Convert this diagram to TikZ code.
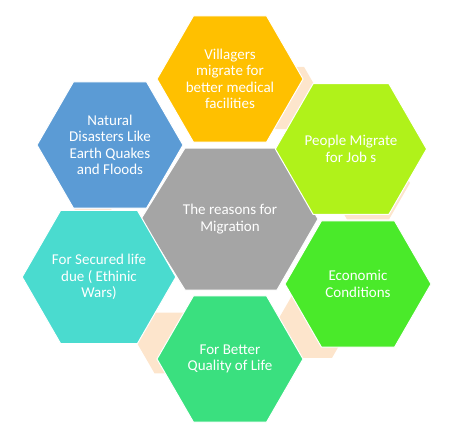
\documentclass[tikz,border=0pt]{standalone}
\usepackage{fontspec}
\setmainfont{Carlito}
\usepackage{xcolor}
\definecolor{HexGold}{HTML}{FFC000}
\definecolor{HexBlue}{HTML}{5B9BD5}
\definecolor{HexLime}{HTML}{B0F21A}
\definecolor{HexGreen}{HTML}{4AEA2A}
\definecolor{HexMint}{HTML}{3AE07F}
\definecolor{HexCyan}{HTML}{4ADBCF}
\definecolor{HexGray}{HTML}{A5A5A5}
\definecolor{LinkPeach}{HTML}{FDE5CC}
\usepackage{tikz}
\usetikzlibrary{shapes.geometric,positioning}

\begin{document}
\begin{tikzpicture}[
  x=1pt, y=-1pt,
  hexbox/.style={regular polygon, regular polygon sides=6, minimum size=146pt,
                 inner sep=0pt, draw=white, line width=1pt, text=white, align=center,
                 font=\fontsize{15}{16.5}\selectfont},
  linkhex/.style={regular polygon, regular polygon sides=6, inner sep=0pt,
                  fill=LinkPeach},
  lbl/.style={text=white, align=center, font=\fontsize{15}{16.5}\selectfont},
]
  \useasboundingbox (0,0) rectangle (460,440);

  % Links
  \node[linkhex, minimum size=72pt] (link1) at (286,98) {};
  \node[linkhex, minimum size=84pt] (link2) at (368,183) {};
  \node[linkhex, minimum size=76pt] (link3) at (313,325) {};
  \node[linkhex, minimum size=70pt] (link4) at (172,343) {};
  \node[linkhex, minimum size=72pt] (link5) at (93,240) {};

  % Centre
  \filldraw[fill=HexGray, draw=white, line width=1pt]
    (141,219) -- (185,148) -- (277,148) -- (318,219) -- (277,290) -- (185,290) -- cycle;
  \node[lbl] (centre) at (230,219) {The reasons for\\Migration};

  % Nodes
  \node[hexbox, fill=HexGold] (medical) at (230,79) {Villagers\\migrate for\\better medical\\facilities};
  \node[hexbox, fill=HexLime] (jobs) at (351,149) {People Migrate\\for Job s};
  \node[hexbox, fill=HexGreen] (economy) at (358,284) {Economic\\Conditions};
  \node[hexbox, fill=HexMint] (quality) at (230,359) {For Better\\Quality of Life};
  \node[hexbox, fill=HexCyan] (secure) at (99,277) {For Secured life\\due ( Ethinic\\Wars)};
  \node[hexbox, fill=HexBlue] (disaster) at (110,145) {Natural\\Disasters Like\\Earth Quakes\\and Floods};
\end{tikzpicture}
\end{document}
